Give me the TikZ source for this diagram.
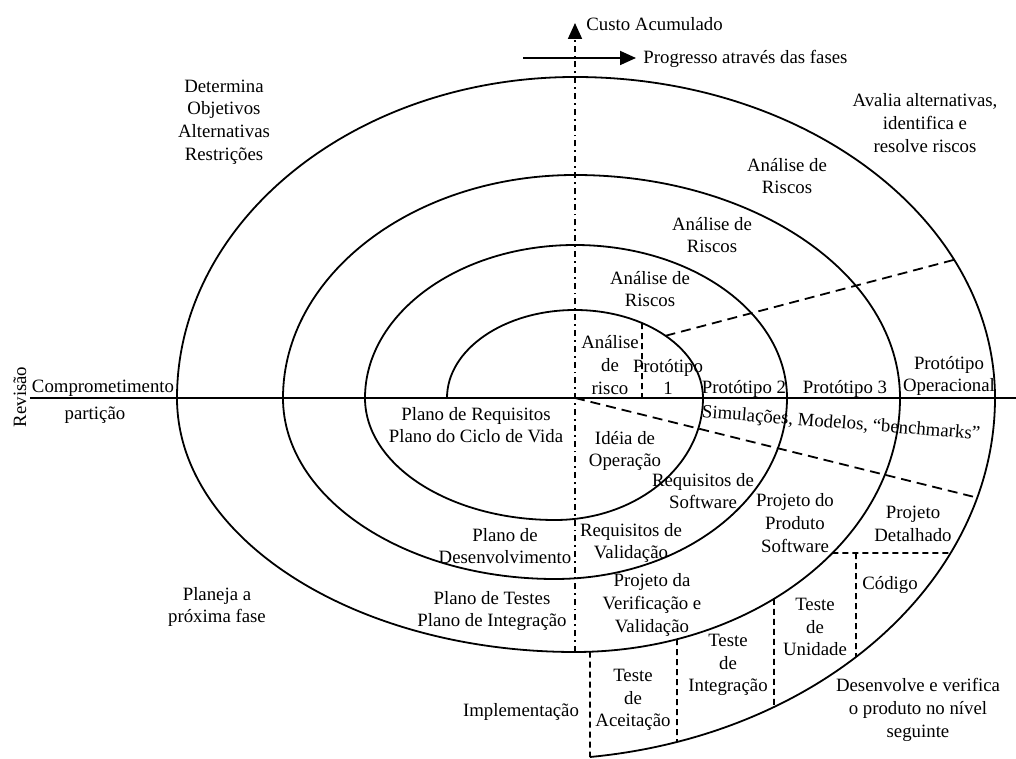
\documentclass[tikz,border=0pt]{standalone}
\usepackage{fontspec}
\setmainfont{Liberation Serif}
\usetikzlibrary{arrows.meta}
\tikzset{
	rotulo/.style = {align=center, inner sep=0pt, text centered,
		font=\fontsize{9.4}{11.3}\selectfont},% texto das fases
	linha/.style = {draw=black, line width=0.9pt},% espiral e eixos
	eixo_c/.style = {linha, dash dot},% eixo do custo
	div_l/.style = {linha, dash pattern=on 5pt off 3pt},% divisao longa
	div_c/.style = {linha, dash pattern=on 3pt off 2pt}% divisao curta
}

\begin{document}
\begin{tikzpicture}[x=0.5pt, y=0.5pt, >={Triangle[width=7pt,length=8pt]}]
\useasboundingbox (-575,-361) rectangle (441,398);
% espiral
\draw[linha] (-128,0)
	arc[start angle=180, end angle=90, x radius=128, y radius=88]
	arc[start angle=90, end angle=0, x radius=128, y radius=88]
	arc[start angle=0, end angle=-90, x radius=148, y radius=122]
	arc[start angle=270, end angle=180, x radius=190, y radius=122]
	arc[start angle=180, end angle=90, x radius=210, y radius=153]
	arc[start angle=90, end angle=0, x radius=212, y radius=153]
	arc[start angle=0, end angle=-90, x radius=232, y radius=181]
	arc[start angle=270, end angle=180, x radius=272, y radius=181]
	arc[start angle=180, end angle=90, x radius=292, y radius=223]
	arc[start angle=90, end angle=0, x radius=325, y radius=223]
	arc[start angle=0, end angle=-90, x radius=325, y radius=254]
	arc[start angle=270, end angle=180, x radius=398, y radius=254]
	arc[start angle=180, end angle=90, x radius=398, y radius=321]
	arc[start angle=90, end angle=0, x radius=420, y radius=321]
	arc[start angle=0, end angle=-83.13, x radius=460, y radius=361.6];

% eixos
\coordinate (o) at (0,0);
\coordinate (esq) at (-545,0);
\coordinate (dir) at (441,0);
\coordinate (base) at (0,-254);
\coordinate (topo) at (0,375);
\coordinate (pg0) at (-52,340);
\node[rotulo, anchor=west] (custo) at (11,374) {Custo Acumulado};
\node[rotulo, anchor=west] (prog) at (68,339) {Progresso através das fases};
\draw[linha] (esq) -- (dir);
\draw[eixo_c, ->] (base) -- (topo);
\draw[linha, ->, shorten >=3.5pt] (pg0) -- (pg0 -| prog.west);

% divisoes (volta externa com centro em (-40,0))
\coordinate (r1) at (45:128 and 88);
\coordinate (r2) at (25.5:420 and 321);
\coordinate (s2) at ([shift={(-40,0)}] -16:460 and 361.6);
\coordinate (p1a) at (58.44:128 and 88);
\coordinate (p1b) at (67,0);
\coordinate (t1a) at (-87.36:325 and 254);
\coordinate (t1b) at ([shift={(-40,0)}] -83.13:460 and 361.6);
\coordinate (t2a) at (-71.71:325 and 254);
\coordinate (t2b) at ([shift={(-40,0)}] -72.02:460 and 361.6);
\coordinate (t3a) at (-52.24:325 and 254);
\coordinate (t3b) at ([shift={(-40,0)}] -58.70:460 and 361.6);
\coordinate (h1) at (-37.60:325 and 254);
\coordinate (h2) at ([shift={(-40,0)}] -25.38:460 and 361.6);
\coordinate (c1) at (281,-155);
\coordinate (c2) at ([shift={(-40,0)}] -45.75:460 and 361.6);
\draw[div_l] (r1) -- (r2);
\draw[div_l] (o) -- (s2);
\draw[div_c] (p1a) -- (p1b);
\draw[div_c] (t1a) -- (t1b);
\draw[div_c] (t2a) -- (t2b);
\draw[div_c] (t3a) -- (t3b);
\draw[div_c] (h1) -- (h2);
\draw[div_c] (c1) -- (c2);

% rotulos
\node[rotulo] (det) at (-351,276) {Determina\\Objetivos\\Alternativas\\Restrições};
\node[rotulo] (aval) at (350,275) {Avalia alternativas,\\identifica e\\resolve riscos};
\node[rotulo] (ar4) at (212,222) {Análise de\\Riscos};
\node[rotulo] (ar3) at (137,163) {Análise de\\Riscos};
\node[rotulo] (ar2) at (75,109) {Análise de\\Riscos};
\node[rotulo] (ar1) at (35,33) {Análise\\de\\risco};
\node[rotulo] (pt1) at (93,21) {Protótipo\\1};
\node[rotulo] (pt2) at (169,9) {Protótipo 2};
\node[rotulo] (pt3) at (270,9) {Protótipo 3};
\node[rotulo] (pto) at (374,22) {Protótipo\\Operacional};
\node[rotulo, rotate=-4.5] (sim) at (266,-26) {Simulações, Modelos, ``benchmarks''};
\node[rotulo, rotate=90] (rev) at (-555,1) {Revisão};
\node[rotulo] (comp) at (-472,10) {Comprometimento};
\node[rotulo] (part) at (-480,-17) {partição};
\node[rotulo] (preq) at (-99,-27) {Plano de Requisitos\\Plano do Ciclo de Vida};
\node[rotulo] (idop) at (50,-53) {Idéia de\\Operação};
\node[rotulo] (rsw) at (128,-93) {Requisitos de\\Software};
\node[rotulo] (pps) at (220,-125) {Projeto do\\Produto\\Software};
\node[rotulo] (pdet) at (338,-126) {Projeto\\Detalhado};
\node[rotulo] (pdes) at (-70,-148) {Plano de\\Desenvolvimento};
\node[rotulo] (rval) at (56,-145) {Requisitos de\\Validação};
\node[rotulo] (pver) at (77,-207) {Projeto da\\Verificação e\\Validação};
\node[rotulo] (ptes) at (-83,-213) {Plano de Testes\\Plano de Integração};
\node[rotulo] (cod) at (315,-187) {Código};
\node[rotulo] (tun) at (240,-229) {Teste\\de\\Unidade};
\node[rotulo] (tin) at (153,-267) {Teste\\de\\Integração};
\node[rotulo] (tac) at (58,-302) {Teste\\de\\Aceitação};
\node[rotulo] (impl) at (-54,-314) {Implementação};
\node[rotulo] (desv) at (343,-312) {Desenvolve e verifica\\o produto no nível\\seguinte};
\node[rotulo] (plan) at (-358,-209) {Planeja a\\próxima fase};
\end{tikzpicture}
\end{document}
